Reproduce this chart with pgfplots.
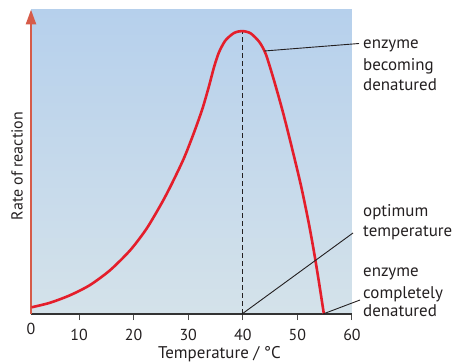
\documentclass[border=0pt]{standalone}
\usepackage{pgfplots}
\pgfplotsset{compat=1.18}
\usepackage{fontspec}
\setmainfont{PT Sans}
\usetikzlibrary{arrows.meta}
\definecolor{curvered}{HTML}{E41E2B}
\definecolor{axred}{HTML}{D65B49}
\definecolor{bgtop}{HTML}{B6D0EC}
\definecolor{bgbot}{HTML}{D4E2EA}
\definecolor{ink}{HTML}{231F20}
\begin{document}
\begin{tikzpicture}
\useasboundingbox (-31bp,-48bp) rectangle (424bp,314bp);
\begin{axis}[
  scale only axis, width=321bp, height=304.5bp,
  xmin=1.2, xmax=60, ymin=0, ymax=100,
  axis x line=bottom, axis y line=left,
  axis background/.style={top color=bgtop, bottom color=bgbot},
  x axis line style={-, line width=1.2bp, color=black!80},
  y axis line style={-{Triangle[width=10bp,length=15bp]}, line width=2.6bp, color=axred},
  ytick=\empty,
  xtick={10,20,30,40,50,60},
  xticklabels={10,20,30,40,50,60},
  extra x ticks={1.2}, extra x tick labels={0},
  extra x tick style={major tick length=0pt},
  tick align=outside,
  major tick length=6bp,
  xtick style={color=black!70, line width=1bp},
  xticklabel style={font=\fontsize{16}{19}\selectfont, text=ink, anchor=base, yshift=-20bp},
  clip=false,
]
\addplot[ink, dash pattern=on 5bp off 3bp, line width=1bp] coordinates {(40,0) (40,92.9)};
\addplot[curvered, line width=2.6bp, smooth, tension=0.45] table {
x y
1.3 2.2
4.7 3.7
8.4 6.2
12.0 9.5
15.7 14.4
19.4 21.0
22.4 28.1
25.2 36.6
27.0 42.8
29.2 51.1
31.0 59.3
32.6 67.4
33.8 74.8
34.7 80.9
35.6 85.8
36.8 89.8
38.4 92.3
39.9 92.9
41.4 92.2
43.0 89.4
44.2 85.4
45.7 76.8
47.3 66.6
48.8 56.0
50.6 42.6
52.0 30.6
53.0 20.8
53.9 11.0
54.85 0
};
\end{axis}
% annotation leader lines
\draw[ink, line width=0.9bp] (233.3bp,263bp) -- (328bp,270.5bp);
\draw[ink, line width=0.9bp] (211bp,0bp) -- (322bp,81bp);
\draw[ink, line width=0.9bp] (292bp,0bp) -- (329bp,14bp);
% annotation texts
\begin{scope}[every node/.style={inner sep=0pt, anchor=base west, font=\fontsize{17}{20}\selectfont, text=ink}]
\node at (332bp,265.3bp) {enzyme};
\node at (332bp,243.3bp) {becoming};
\node at (332bp,223bp) {denatured};
\node at (332bp,97.3bp) {optimum};
\node at (332bp,77.3bp) {temperature};
\node at (332bp,37.3bp) {enzyme};
\node at (332bp,15.7bp) {completely};
\node at (332bp,-2.7bp) {denatured};
\end{scope}
\node[inner sep=0pt, anchor=base east, font=\fontsize{17}{20}\selectfont, text=ink] at (250bp,-44.5bp) {Temperature / °C};
\node[inner sep=0pt, rotate=90, font=\fontsize{16}{19}\selectfont, text=ink] at (-14bp,148bp) {Rate of reaction};
\end{tikzpicture}
\end{document}
